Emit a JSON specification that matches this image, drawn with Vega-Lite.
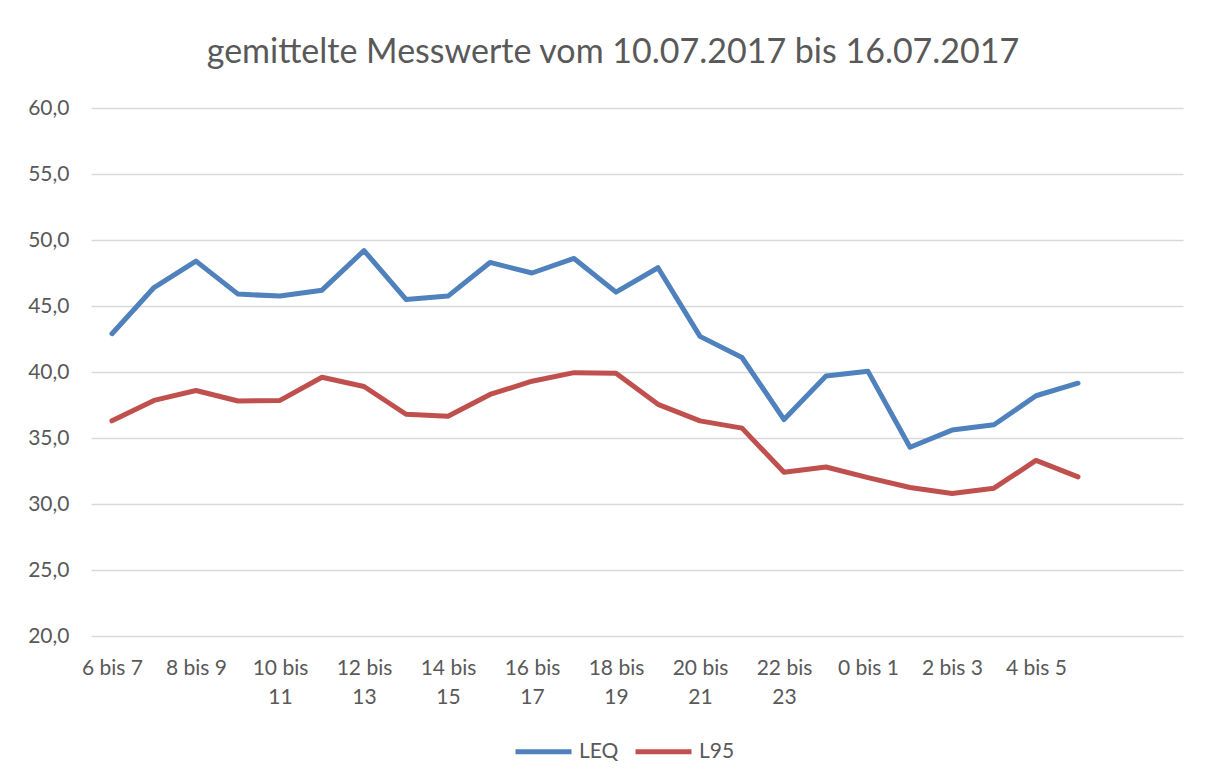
{
  "$schema": "https://vega.github.io/schema/vega-lite/v6.json",
  "width": 1092,
  "height": 528,
  "padding": {"left": 27, "top": 36, "right": 5, "bottom": 5},
  "background": "white",
  "title": {"text": "gemittelte Messwerte vom 10.07.2017 bis 16.07.2017", "font": "Lato", "fontSize": 34, "fontWeight": "normal", "color": "#595959", "offset": 27, "dx": -24},
  "config": {"view": {"stroke": null}},
  "data": {"values": [
    {"Stunde": "6 bis 7", "Reihe": "LEQ", "Wert": 42.9},
    {"Stunde": "7 bis 8", "Reihe": "LEQ", "Wert": 46.4},
    {"Stunde": "8 bis 9", "Reihe": "LEQ", "Wert": 48.4},
    {"Stunde": "9 bis 10", "Reihe": "LEQ", "Wert": 45.9},
    {"Stunde": "10 bis 11", "Reihe": "LEQ", "Wert": 45.75},
    {"Stunde": "11 bis 12", "Reihe": "LEQ", "Wert": 46.2},
    {"Stunde": "12 bis 13", "Reihe": "LEQ", "Wert": 49.2},
    {"Stunde": "13 bis 14", "Reihe": "LEQ", "Wert": 45.5},
    {"Stunde": "14 bis 15", "Reihe": "LEQ", "Wert": 45.75},
    {"Stunde": "15 bis 16", "Reihe": "LEQ", "Wert": 48.3},
    {"Stunde": "16 bis 17", "Reihe": "LEQ", "Wert": 47.5},
    {"Stunde": "17 bis 18", "Reihe": "LEQ", "Wert": 48.6},
    {"Stunde": "18 bis 19", "Reihe": "LEQ", "Wert": 46.05},
    {"Stunde": "19 bis 20", "Reihe": "LEQ", "Wert": 47.9},
    {"Stunde": "20 bis 21", "Reihe": "LEQ", "Wert": 42.7},
    {"Stunde": "21 bis 22", "Reihe": "LEQ", "Wert": 41.1},
    {"Stunde": "22 bis 23", "Reihe": "LEQ", "Wert": 36.4},
    {"Stunde": "23 bis 0", "Reihe": "LEQ", "Wert": 39.7},
    {"Stunde": "0 bis 1", "Reihe": "LEQ", "Wert": 40.05},
    {"Stunde": "1 bis 2", "Reihe": "LEQ", "Wert": 34.3},
    {"Stunde": "2 bis 3", "Reihe": "LEQ", "Wert": 35.6},
    {"Stunde": "3 bis 4", "Reihe": "LEQ", "Wert": 36.0},
    {"Stunde": "4 bis 5", "Reihe": "LEQ", "Wert": 38.2},
    {"Stunde": "5 bis 6", "Reihe": "LEQ", "Wert": 39.15},
    {"Stunde": "6 bis 7", "Reihe": "L95", "Wert": 36.3},
    {"Stunde": "7 bis 8", "Reihe": "L95", "Wert": 37.85},
    {"Stunde": "8 bis 9", "Reihe": "L95", "Wert": 38.6},
    {"Stunde": "9 bis 10", "Reihe": "L95", "Wert": 37.8},
    {"Stunde": "10 bis 11", "Reihe": "L95", "Wert": 37.85},
    {"Stunde": "11 bis 12", "Reihe": "L95", "Wert": 39.6},
    {"Stunde": "12 bis 13", "Reihe": "L95", "Wert": 38.9},
    {"Stunde": "13 bis 14", "Reihe": "L95", "Wert": 36.8},
    {"Stunde": "14 bis 15", "Reihe": "L95", "Wert": 36.65},
    {"Stunde": "15 bis 16", "Reihe": "L95", "Wert": 38.3},
    {"Stunde": "16 bis 17", "Reihe": "L95", "Wert": 39.3},
    {"Stunde": "17 bis 18", "Reihe": "L95", "Wert": 39.95},
    {"Stunde": "18 bis 19", "Reihe": "L95", "Wert": 39.9},
    {"Stunde": "19 bis 20", "Reihe": "L95", "Wert": 37.55},
    {"Stunde": "20 bis 21", "Reihe": "L95", "Wert": 36.3},
    {"Stunde": "21 bis 22", "Reihe": "L95", "Wert": 35.75},
    {"Stunde": "22 bis 23", "Reihe": "L95", "Wert": 32.4},
    {"Stunde": "23 bis 0", "Reihe": "L95", "Wert": 32.8},
    {"Stunde": "0 bis 1", "Reihe": "L95", "Wert": 32.0},
    {"Stunde": "1 bis 2", "Reihe": "L95", "Wert": 31.25},
    {"Stunde": "2 bis 3", "Reihe": "L95", "Wert": 30.8},
    {"Stunde": "3 bis 4", "Reihe": "L95", "Wert": 31.2},
    {"Stunde": "4 bis 5", "Reihe": "L95", "Wert": 33.3},
    {"Stunde": "5 bis 6", "Reihe": "L95", "Wert": 32.05}
  ]},
  "mark": {"type": "line", "strokeWidth": 5, "strokeCap": "round", "strokeJoin": "round"},
  "encoding": {
    "x": {
      "field": "Stunde", "type": "nominal", "sort": null, "title": null,
      "scale": {"type": "point", "padding": 0.5, "domain": ["6 bis 7", "7 bis 8", "8 bis 9", "9 bis 10", "10 bis 11", "11 bis 12", "12 bis 13", "13 bis 14", "14 bis 15", "15 bis 16", "16 bis 17", "17 bis 18", "18 bis 19", "19 bis 20", "20 bis 21", "21 bis 22", "22 bis 23", "23 bis 0", "0 bis 1", "1 bis 2", "2 bis 3", "3 bis 4", "4 bis 5", "5 bis 6", " ", "  "]},
      "axis": {
        "values": ["6 bis 7", "8 bis 9", "10 bis 11", "12 bis 13", "14 bis 15", "16 bis 17", "18 bis 19", "20 bis 21", "22 bis 23", "0 bis 1", "2 bis 3", "4 bis 5"],
        "labelExpr": "length(datum.label) > 7 ? [slice(datum.label, 0, lastindexof(datum.label, ' ')), slice(datum.label, lastindexof(datum.label, ' ') + 1)] : datum.label",
        "labelAngle": 0, "labelFont": "Lato", "labelFontSize": 21, "labelColor": "#595959",
        "labelLineHeight": 29, "labelPadding": 21, "domain": false, "ticks": false, "grid": false
      }
    },
    "y": {
      "field": "Wert", "type": "quantitative", "title": null,
      "scale": {"domain": [20, 60], "nice": false, "zero": false},
      "axis": {
        "values": [20, 25, 30, 35, 40, 45, 50, 55, 60],
        "labelExpr": "replace(format(datum.value, '.1f'), '.', ',')",
        "labelFont": "Lato", "labelFontSize": 21, "labelColor": "#595959", "labelPadding": 22,
        "domain": false, "ticks": false, "grid": true, "gridColor": "#d9d9d9", "gridWidth": 1.3
      }
    },
    "color": {
      "field": "Reihe", "type": "nominal",
      "scale": {"domain": ["LEQ", "L95"], "range": ["#4F81BD", "#C0504D"]},
      "legend": {
        "title": null, "orient": "none", "direction": "horizontal", "legendX": 422, "legendY": 613,
        "symbolType": "stroke", "symbolSize": 3136, "symbolStrokeWidth": 5,
        "labelFont": "Lato", "labelFontSize": 21, "labelColor": "#595959", "labelOffset": 5, "columnPadding": 6
      }
    }
  }
}
